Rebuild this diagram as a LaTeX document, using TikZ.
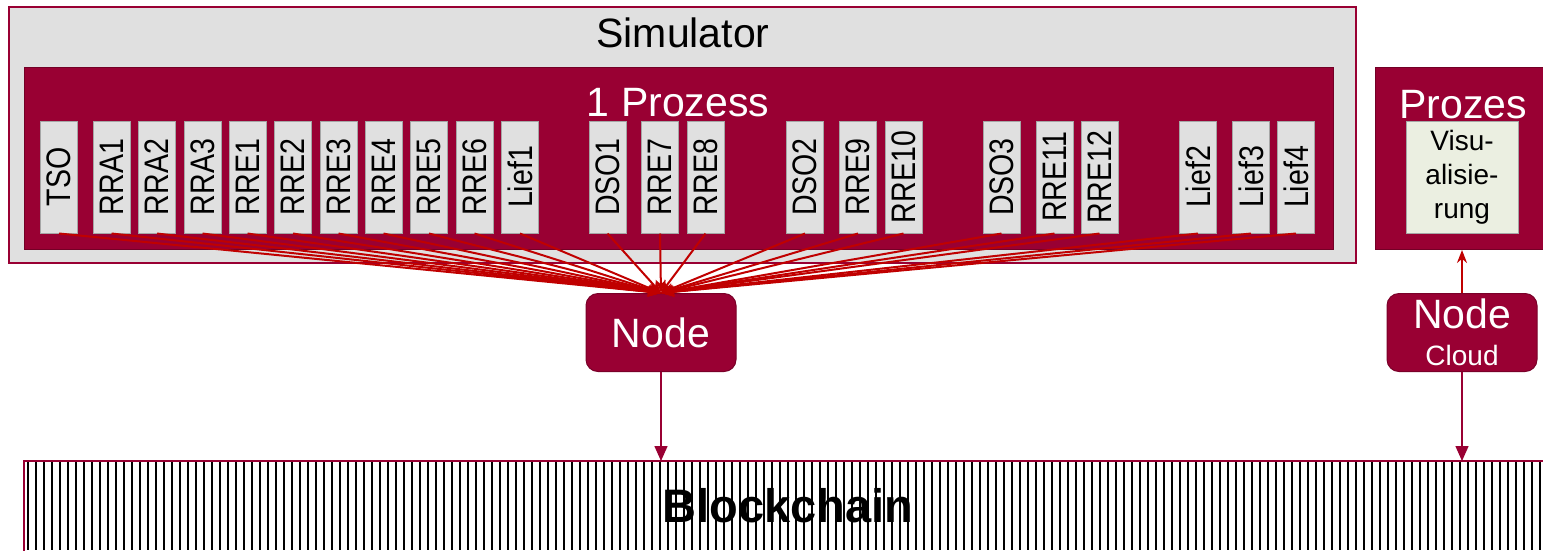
\documentclass[tikz,border=0pt]{standalone}
\usepackage{fontspec}
\setmainfont{Liberation Sans}
\usetikzlibrary{arrows.meta}
\definecolor{uniRed}{RGB}{153,0,51}
\definecolor{fanRed}{RGB}{192,0,0}
\definecolor{boxGray}{RGB}{224,224,224}
\definecolor{visGreen}{RGB}{235,239,225}
\newcommand{\bigfont}{\fontsize{41}{49}\selectfont}
\newcommand{\agentlbl}[1]{\rotatebox{90}{\scalebox{0.84}[1]{\fontsize{34}{36}\selectfont #1}}}
\tikzset{
  agent/.style={draw=gray!70,fill=boxGray,line width=1pt,minimum width=37pt,minimum height=112pt,inner sep=0pt},
  nodebox/.style={draw=uniRed!80!black,fill=uniRed,line width=1pt,rounded corners=12pt,minimum width=150pt,minimum height=78pt,text=white,inner sep=0pt},
  fan/.style={-{Stealth[length=13pt,width=10pt]},draw=fanRed,line width=2pt},
  chain/.style={-{Triangle[length=15pt,width=13pt]},draw=uniRed,line width=1.5pt}
}
\begin{document}
\begin{tikzpicture}[x=1pt,y=-1pt]
	\useasboundingbox (0,0) rectangle (1543,550);
	% simulator with one process
	\draw[uniRed,line width=1.5pt,fill=boxGray] (9,7) rectangle (1356,263);
	\node (simtitle) at (683,33) {\bigfont Simulator};
	\draw[uniRed!75!black,line width=1pt,fill=uniRed] (24,67) rectangle (1333,249);
	\node[text=white] (proctitle) at (678,103) {\bigfont 1 Prozess};
	\foreach \lbl/\xc in {TSO/59,RRA1/111.5,RRA2/157,RRA3/202.5,RRE1/247.5,RRE2/293,RRE3/338.5,RRE4/383.5,RRE5/429,RRE6/474.5,Lief1/520,DSO1/607.5,RRE7/660,RRE8/705.5,DSO2/805,RRE9/858,RRE10/903.5,DSO3/1001.5,RRE11/1054.5,RRE12/1099.5,Lief2/1198,Lief3/1251,Lief4/1296}
		\node[agent] (\lbl) at (\xc,177) {\agentlbl{\lbl}};
	% second process
	\node[draw=uniRed!75!black,fill=uniRed,line width=1pt,minimum width=185pt,minimum height=182pt,anchor=north west,inner sep=0pt] (proz) at (1375,67) {};
	\node[text=white] (proztitle) at (1463,105) {\bigfont Prozes};
	\node[draw=gray!70,fill=visGreen,line width=1pt,minimum width=112pt,minimum height=112pt,inner sep=0pt,align=center,font=\fontsize{28}{34}\selectfont] (vis) at (1462,177) {Visu-\\alisie-\\rung};
	% nodes
	\node[nodebox] (nd) at (661,332.5) {\bigfont Node};
	\node[nodebox,align=center,font=\fontsize{28}{37}\selectfont] (ndc) at (1462,332.5) {{\bigfont Node}\\Cloud};
	% blockchain
	\foreach \xs in {28,36,...,1548}
		\draw[line width=2.4pt] (\xs,462) -- (\xs,550);
	\draw[uniRed,line width=2pt] (24,551) -- (24,461) -- (1550,461);
	\node[font=\bfseries\fontsize{47}{50}\selectfont] (bc) at (788,506) {Blockchain};
	\coordinate (bcL) at (661,461);
	\coordinate (bcR) at (1462,461);
	% connectors
	\foreach \lbl in {TSO,RRA1,RRA2,RRA3,RRE1,RRE2,RRE3,RRE4,RRE5,RRE6,Lief1,DSO1,RRE7,RRE8,DSO2,RRE9,RRE10,DSO3,RRE11,RRE12,Lief2,Lief3,Lief4}
		\draw[fan] (\lbl.south) -- (nd.north);
	\draw[chain] (nd) -- (bcL);
	\draw[chain] (ndc) -- (bcR);
	\draw[fan] (ndc) -- (ndc |- proz.south);
\end{tikzpicture}
\end{document}
